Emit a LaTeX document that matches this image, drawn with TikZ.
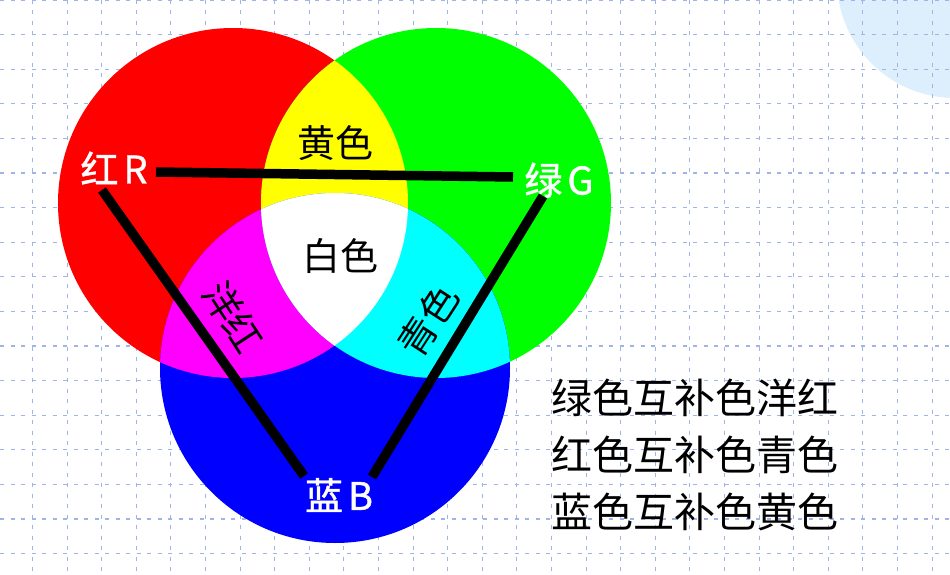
\documentclass[tikz,border=0pt]{standalone}
\usepackage{fontspec}
\setmainfont{Noto Sans CJK SC}
\newfontfamily\labfont{Noto Sans CJK SC}[FakeBold=1.2]
\definecolor{gridblue}{RGB}{160,180,232}
\definecolor{paleblue}{RGB}{221,239,252}
\definecolor{pred}{RGB}{255,0,0}
\definecolor{pgreen}{RGB}{0,255,0}
\definecolor{pblue}{RGB}{0,0,255}
\definecolor{pyellow}{RGB}{255,255,0}
\definecolor{pmagenta}{RGB}{255,0,255}
\definecolor{pcyan}{RGB}{0,255,255}
\begin{document}
\begin{tikzpicture}[x=1pt,y=-1pt,
  gridline/.style={draw=gridblue,line width=1.1pt,dash pattern=on 4pt off 6.5pt},
  bar/.style={line width=9.5pt,black},
  lab/.style={text=white,font=\labfont\fontsize{38}{40}\selectfont,inner sep=0pt},
  mix/.style={text=black,font=\fontsize{38}{40}\selectfont,inner sep=0pt},
  note/.style={text=black,font=\fontsize{41}{57}\selectfont,inner sep=0pt,align=left,anchor=west}]
\useasboundingbox (0,0) rectangle (950,575);
\fill[white] (0,0) rectangle (950,575);
% pale circle top right
\fill[paleblue] (955,-20) circle [radius=118pt];
% grid
\foreach \i in {0,...,26} \draw[gridline] ({32.5+34.6*\i},0) -- ({32.5+34.6*\i},575);
\foreach \j in {0,...,16} \draw[gridline] (0,{34.6*\j}) -- (950,{34.6*\j});
% circles
\coordinate (cr) at (233,203);
\coordinate (cg) at (436,203);
\coordinate (cb) at (335,368);
\fill[pred] (cr) circle [radius=175pt];
\fill[pgreen] (cg) circle [radius=175pt];
\fill[pblue] (cb) circle [radius=175pt];
\begin{scope}\clip (cr) circle [radius=175pt]; \fill[pyellow] (cg) circle [radius=175pt];\end{scope}
\begin{scope}\clip (cr) circle [radius=175pt]; \fill[pmagenta] (cb) circle [radius=175pt];\end{scope}
\begin{scope}\clip (cg) circle [radius=175pt]; \fill[pcyan] (cb) circle [radius=175pt];\end{scope}
\begin{scope}\clip (cr) circle [radius=175pt]; \clip (cg) circle [radius=175pt]; \fill[white] (cb) circle [radius=175pt];\end{scope}
% labels
\node[lab] (R) at (114,168) {红\hspace{5pt}R};
\node[lab] (G) at (559,180) {绿\hspace{5pt}G};
\node[lab] (B) at (339,495) {蓝\hspace{5pt}B};
\node[mix] (Y) at (335,143) {黄色};
\node[mix] (W) at (340,256) {白色};
\node[mix,rotate=-57] (M) at (233,317) {洋红};
\node[mix,rotate=57] (C) at (428,321) {青色};
% bars
\coordinate (r1) at (156,172);
\coordinate (g1) at (513,177);
\coordinate (r2) at (102,190);
\coordinate (b1) at (304,476);
\coordinate (b2) at (372,477);
\coordinate (g2) at (543,196);
\draw[bar] (r1) -- (g1);
\draw[bar] (r2) -- (b1);
\draw[bar] (b2) -- (g2);
% notes
\node[note] (N) at (551,455) {绿色互补色洋红\\红色互补色青色\\蓝色互补色黄色};
\end{tikzpicture}
\end{document}
